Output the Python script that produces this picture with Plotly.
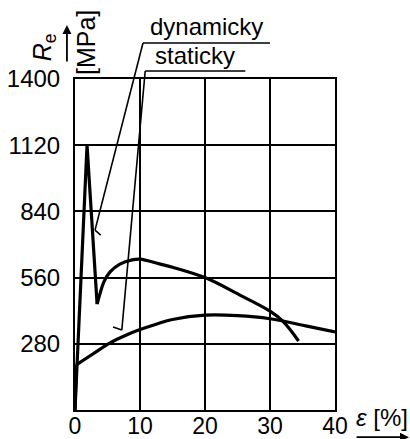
import plotly.graph_objects as go

# ---- data ----
x_ticks = [0, 10, 20, 30, 40]
y_ticks = [280, 560, 840, 1120, 1400]

dyn_strain = [0, 1.85, 3.4, 3.85, 4.5, 5.4, 6.9, 8.8, 10, 13, 15, 20, 25.3, 30, 32, 34.4]
dyn_stress = [0, 1120, 448, 493, 545, 584, 617, 635, 638, 618, 604, 560, 487, 418, 375, 292]

stat_strain = [0, 0.2, 2.8, 5.4, 8, 10, 12.6, 15, 20, 25, 30, 35.5, 40]
stat_stress = [0, 191, 238, 284, 318, 340, 364, 383, 401, 399, 386, 356, 330]

label_dyn = "dynamicky"
label_stat = "staticky"

X_RANGE = [0, 40]
Y_RANGE = [0, 1400]

BLACK = "black"
FONT = "Liberation Sans, Arial, Helvetica, sans-serif"


def px(x):
    return (x - X_RANGE[0]) / (X_RANGE[1] - X_RANGE[0])


def py(y):
    return (y - Y_RANGE[0]) / (Y_RANGE[1] - Y_RANGE[0])


fig = go.Figure()

# dynamic curve: sharp peak and V (linear) then smooth hump (spline)
fig.add_trace(go.Scatter(x=dyn_strain[:3], y=dyn_stress[:3], mode="lines",
                         line=dict(color=BLACK, width=3.2), hoverinfo="skip"))
fig.add_trace(go.Scatter(x=dyn_strain[2:], y=dyn_stress[2:], mode="lines",
                         line=dict(color=BLACK, width=3.2, shape="spline", smoothing=1),
                         hoverinfo="skip"))
# static curve: vertical start then smooth curve
fig.add_trace(go.Scatter(x=stat_strain[:2], y=stat_stress[:2], mode="lines",
                         line=dict(color=BLACK, width=3.2), hoverinfo="skip"))
fig.add_trace(go.Scatter(x=stat_strain[1:], y=stat_stress[1:], mode="lines",
                         line=dict(color=BLACK, width=3.2, shape="spline", smoothing=1),
                         hoverinfo="skip"))

shapes = []


def seg(x0, y0, x1, y1, w=1.6):
    shapes.append(dict(type="line", xref="paper", yref="paper",
                       x0=px(x0), y0=py(y0), x1=px(x1), y1=py(y1),
                       line=dict(color=BLACK, width=w)))


# leader for "dynamicky"
seg(10.46, 1552, 30.0, 1552)
seg(10.46, 1552, 3.08, 761)
seg(3.08, 761, 3.95, 740)
# leader for "staticky"
seg(10.8, 1434, 26.2, 1434)
seg(10.8, 1434, 7.2, 338)
seg(5.85, 351, 7.2, 338)

annotations = [
    dict(text=label_dyn, xref="paper", yref="paper", x=px(20.2), y=py(1622), showarrow=False,
         font=dict(size=24, family=FONT, color=BLACK), xanchor="center", yanchor="middle"),
    dict(text=label_stat, xref="paper", yref="paper", x=px(18.5), y=py(1498), showarrow=False,
         font=dict(size=24, family=FONT, color=BLACK), xanchor="center", yanchor="middle"),
    # y-axis title
    dict(text="<i>R</i><sub>e</sub>", xref="paper", yref="paper", x=-0.12, y=1.095,
         showarrow=False, textangle=-90, font=dict(size=25, family=FONT, color=BLACK),
         xanchor="center", yanchor="middle"),
    dict(text="[MPa]", xref="paper", yref="paper", x=0.04, y=1.11,
         showarrow=False, textangle=-90, font=dict(size=25, family=FONT, color=BLACK),
         xanchor="center", yanchor="middle"),
    dict(text="", xref="paper", yref="paper", x=-0.031, y=1.163, ax=0, ay=38,
         showarrow=True, arrowhead=2, arrowsize=1, arrowwidth=1.8, arrowcolor=BLACK),
    # x-axis title
    dict(text="<i>ε</i> [%]", xref="paper", yref="paper", x=1.181, y=-0.024,
         showarrow=False, font=dict(size=24, family=FONT, color=BLACK),
         xanchor="center", yanchor="middle"),
    dict(text="", xref="paper", yref="paper", x=1.285, y=-0.082, ax=-54, ay=0,
         showarrow=True, arrowhead=2, arrowsize=1, arrowwidth=1.8, arrowcolor=BLACK),
]

fig.update_layout(
    width=410, height=439,
    margin=dict(l=75, r=75, t=79, b=29, pad=0, autoexpand=False),
    paper_bgcolor="white", plot_bgcolor="white",
    showlegend=False,
    font=dict(family=FONT, size=24, color=BLACK),
    shapes=shapes,
    annotations=annotations,
)
fig.update_xaxes(range=X_RANGE, tickvals=x_ticks, ticktext=[str(v) for v in x_ticks],
                 showgrid=True, gridcolor=BLACK, gridwidth=2,
                 showline=True, linecolor=BLACK, linewidth=2, mirror=True,
                 zeroline=False, ticks="", ticklabelstandoff=-6, automargin=False,
                 tickfont=dict(size=23, family=FONT, color=BLACK))
fig.update_yaxes(range=Y_RANGE, tickvals=y_ticks, ticktext=[str(v) for v in y_ticks],
                 showgrid=True, gridcolor=BLACK, gridwidth=2,
                 showline=True, linecolor=BLACK, linewidth=2, mirror=True,
                 zeroline=False, ticks="", ticklabelstandoff=8, automargin=False,
                 tickfont=dict(size=24, family=FONT, color=BLACK))

fig.write_html("out.html", config={"displayModeBar": False, "staticPlot": True},
               post_script="document.body.style.margin='0';")
